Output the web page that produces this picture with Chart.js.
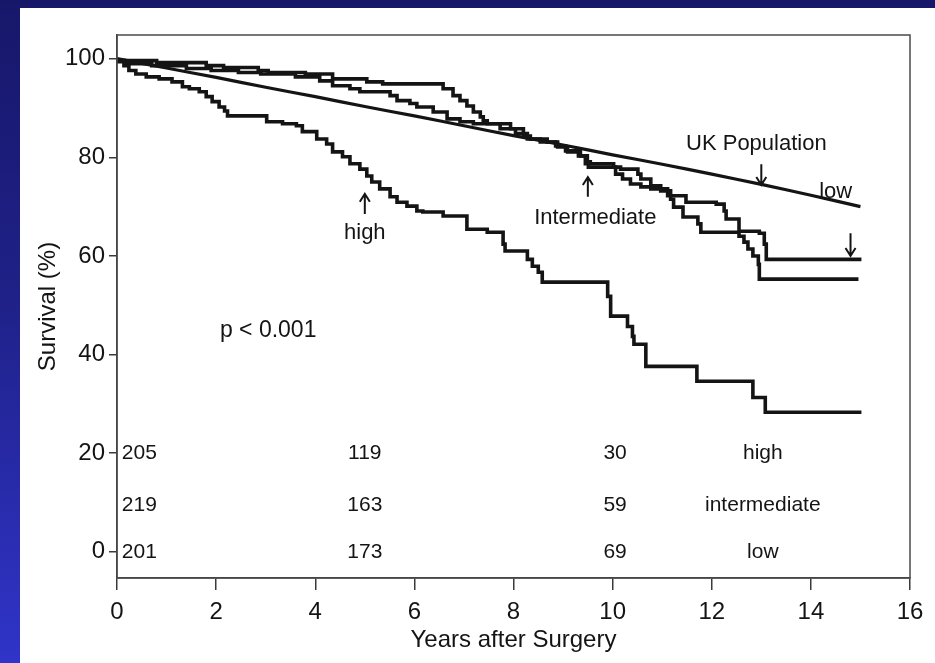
<!DOCTYPE html>
<html>
<head>
<meta charset="utf-8">
<script src="https://cdn.jsdelivr.net/npm/chart.js@4.4.1/dist/chart.umd.min.js"></script>
<style>
  html, body {
    margin: 0; padding: 0; width: 935px; height: 663px; overflow: hidden;
    background: linear-gradient(180deg, #17176a 0%, #1f2188 45%, #3034c8 100%);
  }
  #panel { position: absolute; left: 20px; top: 8px; width: 915px; height: 655px; background: #ffffff; }
  canvas { display: block; }
</style>
</head>
<body>
<div id="panel"><canvas id="km" width="915" height="655"></canvas></div>
<script>
// Kaplan-Meier survival by risk group, with the UK population reference curve
const yearTicks = [0, 2, 4, 6, 8, 10, 12, 14, 16];
const survivalTicks = [0, 20, 40, 60, 80, 100];

const highYears = [0, 0.14, 0.24, 0.38, 0.59, 0.85, 1.11, 1.32, 1.46, 1.66, 1.80, 1.92, 2.06, 2.17, 2.23,
  3.02, 3.34, 3.62, 3.74, 4.03, 4.23, 4.35, 4.55, 4.70, 4.90, 5.04, 5.14, 5.30, 5.51, 5.65, 5.85, 6.05,
  6.17, 6.58, 7.06, 7.47, 7.79, 7.83, 8.28, 8.38, 8.50, 8.58, 9.90, 9.96, 10.30, 10.40, 10.43, 10.67,
  11.70, 12.83, 13.08, 14.29, 15.02];
const highSurvival = [100, 99.6, 98.6, 97.6, 96.9, 96.3, 95.9, 95.3, 94.3, 93.9, 93.3, 92.3, 91.3, 90.2, 89.4,
  88.4, 87.2, 86.8, 86.4, 85.2, 83.7, 82.7, 81.1, 80.1, 78.7, 77.6, 76.2, 75.0, 73.6, 72.0, 70.9, 70.1,
  69.1, 68.9, 68.1, 65.4, 64.8, 62.4, 61.0, 59.3, 57.9, 56.7, 54.7, 51.8, 47.8, 45.7, 43.7, 42.1,
  37.6, 34.6, 31.3, 28.3, 28.3];

const intermediateYears = [0, 0.2, 0.7, 1.4, 1.9, 2.45, 2.9, 3.6, 4.09, 4.35, 4.70, 4.90, 5.51, 5.65, 5.91,
  6.05, 6.38, 6.66, 6.92, 7.19, 7.73, 8.04, 8.28, 8.54, 8.85, 9.05, 9.31, 9.45, 9.51, 10.06, 10.20, 10.36,
  10.57, 10.77, 10.97, 11.17, 11.23, 11.42, 11.72, 11.78, 12.55, 12.65, 12.73, 12.83, 12.94, 12.96, 14.45, 14.96];
const intermediateSurvival = [100, 99.4, 99.0, 98.6, 98.0, 97.6, 97.2, 96.9, 96.3, 95.5, 94.5, 93.9, 93.3, 92.5, 91.5,
  90.9, 90.2, 89.2, 87.8, 87.2, 86.8, 85.8, 84.8, 83.7, 83.1, 82.3, 81.3, 80.3, 78.7, 78.0, 76.6, 75.6,
  74.6, 74.0, 73.6, 73.2, 71.5, 69.9, 67.9, 66.5, 64.8, 64.0, 62.8, 61.4, 60.0, 58.3, 55.3, 55.3];

const lowYears = [0, 0.8, 1.8, 2.15, 2.85, 3.05, 3.8, 4.35, 5.04, 5.36, 6.58, 6.78, 6.92, 7.06, 7.19, 7.33,
  7.39, 7.47, 7.94, 8.20, 8.34, 8.68, 8.89, 9.09, 9.35, 9.49, 9.55, 10.02, 10.16, 10.51, 10.57, 10.77,
  10.97, 11.11, 11.48, 12.09, 12.25, 12.29, 12.55, 12.96, 13.06, 13.10, 14.55, 15.02];
const lowSurvival = [100, 99.6, 99.2, 98.6, 98.2, 97.6, 97.2, 96.9, 95.9, 95.3, 94.9, 93.9, 92.5, 91.5, 90.4, 89.2,
  88.2, 87.4, 86.8, 85.8, 84.3, 83.7, 83.1, 82.1, 81.1, 80.3, 79.1, 78.7, 78.0, 77.6, 76.6, 75.6,
  74.2, 73.6, 72.2, 70.9, 70.5, 69.1, 67.5, 65.0, 64.6, 62.4, 59.3, 59.3];

const ukYears = [0, 1, 2, 3, 4, 5, 6, 7, 8, 9, 10, 11, 12, 13, 14, 15];
const ukSurvival = [100, 98.1, 96.2, 94.2, 92.3, 90.3, 88.4, 86.4, 84.4, 82.5, 80.5, 78.6, 76.6, 74.5, 72.3, 70.0];

// numbers at risk
const riskGroups = ['high', 'intermediate', 'low'];
const atRiskHigh = [205, 119, 30];
const atRiskIntermediate = [219, 163, 59];
const atRiskLow = [201, 173, 69];

const pValueText = 'p < 0.001';

const toPoints = (xs, ys) => xs.map((x, i) => ({ x: x, y: ys[i] }));

const FONT = '"Liberation Sans", Arial, Helvetica, sans-serif';
const INK = '#141414';

const kmStyle = { borderColor: INK, borderWidth: 3.6, pointRadius: 0, fill: false, stepped: 'after', borderJoinStyle: 'miter', borderCapStyle: 'butt' };

// anchors (data units) for the free text
const riskColumnYears = [0.45, 5.0, 10.05];
const riskRowLevels = [20, 9.5, 0];
const groupLabelYear = 13.03;

function arrow(ctx, x, y0, y1) {
  ctx.beginPath();
  ctx.moveTo(x, y0);
  ctx.lineTo(x, y1);
  const dir = y1 < y0 ? 1 : -1;
  ctx.moveTo(x - 5, y1 + dir * 8);
  ctx.lineTo(x, y1);
  ctx.lineTo(x + 5, y1 + dir * 8);
  ctx.stroke();
}

const annotations = {
  id: 'annotations',
  afterDatasetsDraw(chart) {
    const { ctx, chartArea } = chart;
    const xs = chart.scales.x, ys = chart.scales.y;
    const px = v => xs.getPixelForValue(v), py = v => ys.getPixelForValue(v);
    ctx.save();
    // frame round the plot
    ctx.strokeStyle = '#4a4a4a';
    ctx.lineWidth = 1.5;
    ctx.strokeRect(chartArea.left, chartArea.top, chartArea.right - chartArea.left, chartArea.bottom - chartArea.top);

    ctx.fillStyle = INK;
    ctx.strokeStyle = INK;
    ctx.textBaseline = 'middle';
    ctx.textAlign = 'center';
    ctx.font = '22px ' + FONT;
    ctx.lineWidth = 2;

    ctx.fillText('UK Population', px(12.9), py(82.8));
    arrow(ctx, px(13.0), py(78.6), py(74.4));
    ctx.fillText('low', px(14.5), py(72.9));
    arrow(ctx, px(14.8), py(64.6), py(60.0));
    ctx.fillText('Intermediate', px(9.65), py(67.8));
    arrow(ctx, px(9.5), py(72.0), py(76.0));
    ctx.fillText('high', px(5.0), py(64.6));
    arrow(ctx, px(5.0), py(68.5), py(72.6));

    ctx.font = '23px ' + FONT;
    ctx.fillText(pValueText, px(3.05), py(44.9));

    const rows = [atRiskHigh, atRiskIntermediate, atRiskLow];
    ctx.font = '21px ' + FONT;
    rows.forEach((vals, r) => {
      vals.forEach((v, c) => ctx.fillText(String(v), px(riskColumnYears[c]), py(riskRowLevels[r])));
      ctx.fillText(riskGroups[r], px(groupLabelYear), py(riskRowLevels[r]));
    });
    ctx.restore();
  }
};

new Chart(document.getElementById('km'), {
  type: 'line',
  data: {
    datasets: [
      Object.assign({ label: 'high', data: toPoints(highYears, highSurvival) }, kmStyle),
      Object.assign({ label: 'intermediate', data: toPoints(intermediateYears, intermediateSurvival) }, kmStyle),
      Object.assign({ label: 'low', data: toPoints(lowYears, lowSurvival) }, kmStyle),
      { label: 'UK Population', data: toPoints(ukYears, ukSurvival), borderColor: INK, borderWidth: 3.2,
        pointRadius: 0, fill: false, tension: 0.3 }
    ]
  },
  options: {
    responsive: false,
    animation: false,
    events: [],
    layout: { padding: { top: 27, right: 25, left: 0, bottom: 0 } },
    plugins: { legend: { display: false }, tooltip: { enabled: false } },
    scales: {
      x: {
        type: 'linear', min: 0, max: 16,
        afterBuildTicks: s => { s.ticks = yearTicks.map(v => ({ value: v })); },
        afterFit: s => { s.height = 85; },
        ticks: { color: INK, font: { family: FONT, size: 24 }, padding: 8 },
        grid: { drawOnChartArea: false, tickLength: 12, color: '#3a3a3a', lineWidth: 1.5 },
        border: { color: '#3a3a3a', width: 1.5 },
        title: { display: true, text: 'Years after Surgery', color: INK, font: { family: FONT, size: 24 }, padding: { top: 0, bottom: 8 } }
      },
      y: {
        type: 'linear', min: -5.3, max: 104.8,
        afterBuildTicks: s => { s.ticks = survivalTicks.map(v => ({ value: v })); },
        afterFit: s => { s.width = 97; },
        ticks: { color: INK, font: { family: FONT, size: 24 }, padding: 4 },
        grid: { drawOnChartArea: false, tickLength: 8, color: '#3a3a3a', lineWidth: 1.5 },
        border: { color: '#3a3a3a', width: 1.5 },
        title: { display: true, text: 'Survival (%)', color: INK, font: { family: FONT, size: 24 }, padding: { top: 14, bottom: 0 } }
      }
    }
  },
  plugins: [annotations]
});
</script>
</body>
</html>
